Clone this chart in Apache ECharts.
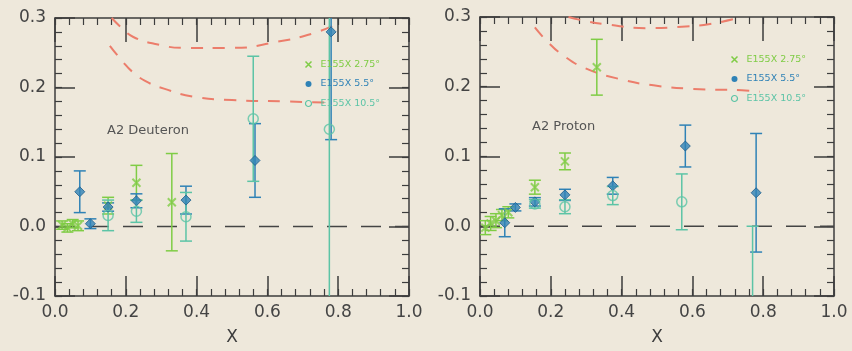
<!DOCTYPE html>
<html>
<head>
<meta charset="utf-8">
<script src="https://cdn.jsdelivr.net/npm/echarts@6/dist/echarts.min.js"></script>
<style>
  html, body { margin: 0; padding: 0; background: #eee8db; }
  #chart { width: 852px; height: 351px; }
</style>
</head>
<body>
<div id="chart"></div>
<script>
// 数据 - Deuteron (左图)
const d275X = [0.02, 0.035, 0.05, 0.065, 0.15, 0.23, 0.33]
const d275Y = [0.002, -0.002, 0.004, 0.001, 0.03, 0.063, 0.035]
const d275E = [0.006, 0.006, 0.006, 0.007, 0.012, 0.025, 0.07]
const d55X = [0.07, 0.1, 0.15, 0.23, 0.37, 0.565, 0.78]
const d55Y = [0.05, 0.004, 0.028, 0.037, 0.038, 0.095, 0.28]
const d55E = [0.03, 0.007, 0.006, 0.01, 0.02, 0.053, 0.155]
const d105X = [0.15, 0.23, 0.37, 0.56, 0.775]
const d105Y = [0.016, 0.022, 0.014, 0.155, 0.14]
const d105E = [0.022, 0.016, 0.035, 0.09, 0.5]
// 红色虚线（上下两条）
const dUpX = [0.16, 0.19, 0.22, 0.28, 0.37, 0.5, 0.63, 0.73, 0.79]
const dUpY = [0.3, 0.285, 0.273, 0.263, 0.257, 0.257, 0.266, 0.278, 0.29]
const dLoX = [0.155, 0.19, 0.22, 0.26, 0.31, 0.39, 0.5, 0.65, 0.78]
const dLoY = [0.26, 0.238, 0.222, 0.208, 0.198, 0.187, 0.182, 0.18, 0.178]

// 数据 - Proton (右图)
const p275X = [0.015, 0.03, 0.045, 0.062, 0.08, 0.155, 0.24, 0.33]
const p275Y = [-0.002, 0.004, 0.008, 0.016, 0.02, 0.056, 0.093, 0.228]
const p275E = [0.01, 0.01, 0.01, 0.008, 0.008, 0.01, 0.012, 0.04]
const p55X = [0.07, 0.1, 0.155, 0.24, 0.375, 0.58, 0.78]
const p55Y = [0.005, 0.027, 0.035, 0.045, 0.058, 0.115, 0.048]
const p55E = [0.02, 0.005, 0.006, 0.008, 0.012, 0.03, 0.085]
const p105X = [0.155, 0.24, 0.375, 0.57, 0.77]
const p105Y = [0.032, 0.028, 0.044, 0.035, -0.16]
const p105E = [0.006, 0.01, 0.013, 0.04, 0.16]
const pUpX = [0.25, 0.3, 0.35, 0.47, 0.57, 0.65, 0.74]
const pUpY = [0.3, 0.294, 0.29, 0.284, 0.286, 0.29, 0.3]
const pLoX = [0.155, 0.188, 0.235, 0.3, 0.395, 0.49, 0.6, 0.74, 0.79]
const pLoY = [0.285, 0.266, 0.245, 0.226, 0.211, 0.202, 0.197, 0.195, 0.193]

const zeroX = [0, 1]
const zeroY = [0, 0]

const names = ['E155X 2.75°', 'E155X 5.5°', 'E155X 10.5°']
const titles = ['A2 Deuteron', 'A2 Proton']

const green = '#7fcc45'
const blue = '#2f82b6'
const teal = '#5cc4a6'
const red = '#ec7d6b'
const axisColor = '#3d3d3d'
const crossPath = 'path://M0,0L10,10M10,0L0,10'

const zip = (xs, ys, es) => xs.map((x, i) => es ? [x, ys[i], es[i]] : [x, ys[i]])

function errRender(params, api) {
  const x = api.value(0), y = api.value(1), e = api.value(2)
  const top = api.coord([x, y + e])
  const bot = api.coord([x, y - e])
  const cap = 6
  const style = { stroke: api.visual('color'), lineWidth: 1.5 }
  return {
    type: 'group',
    children: [
      { type: 'line', shape: { x1: top[0], y1: top[1], x2: bot[0], y2: bot[1] }, style: style },
      { type: 'line', shape: { x1: top[0] - cap, y1: top[1], x2: top[0] + cap, y2: top[1] }, style: style },
      { type: 'line', shape: { x1: bot[0] - cap, y1: bot[1], x2: bot[0] + cap, y2: bot[1] }, style: style }
    ]
  }
}

// 主刻度轴
function xAx(gi, pos) {
  const main = pos === 'bottom'
  return {
    type: 'value', gridIndex: gi, position: pos, min: 0, max: 1, interval: 0.2,
    name: main ? 'X' : '', nameLocation: 'middle', nameGap: 33,
    nameTextStyle: { color: axisColor, fontSize: 17 },
    axisLine: { onZero: false, lineStyle: { color: axisColor, width: 1.5 } },
    axisTick: { inside: true, length: main ? 20 : 24, lineStyle: { color: axisColor, width: 1.5 } },
    splitLine: { show: false },
    axisLabel: { show: main, color: '#444', fontSize: 17, margin: 8, formatter: v => v.toFixed(1) }
  }
}

function yAx(gi, pos) {
  const main = pos === 'left'
  return {
    type: 'value', gridIndex: gi, position: pos, min: -0.1, max: 0.3, interval: 0.1,
    axisLine: { onZero: false, lineStyle: { color: axisColor, width: 1.5 } },
    axisTick: { inside: true, length: 20, lineStyle: { color: axisColor, width: 1.5 } },
    splitLine: { show: false },
    axisLabel: { show: main, color: '#444', fontSize: 17, margin: 9, formatter: v => v.toFixed(1) }
  }
}

// 次刻度轴（只画短刻度）
function minorAx(gi, pos, min, max, step) {
  return {
    type: 'value', gridIndex: gi, position: pos, min: min, max: max, interval: step,
    axisLine: { show: false, onZero: false },
    axisTick: { inside: true, length: 7, lineStyle: { color: axisColor, width: 1.2 } },
    splitLine: { show: false },
    axisLabel: { show: false }
  }
}

function panelSeries(ax, sets, curves) {
  const out = []
  // 红色虚线和零线
  curves.forEach(c => {
    out.push({
      type: 'line', xAxisIndex: ax, yAxisIndex: ax, data: zip(c[0], c[1]),
      smooth: true, symbol: 'none', silent: true, z: 1,
      lineStyle: { color: red, width: 2, type: [12, 10] }
    })
  })
  out.push({
    type: 'line', xAxisIndex: ax, yAxisIndex: ax, data: zip(zeroX, zeroY),
    symbol: 'none', silent: true, z: 1,
    lineStyle: { color: '#444', width: 1.5, type: [20, 14] }
  })
  sets.forEach((s, i) => {
    out.push({
      name: names[i], type: 'custom', xAxisIndex: ax, yAxisIndex: ax,
      renderItem: errRender, data: zip(s.x, s.y, s.e), clip: true,
      encode: { x: 0, y: 1 }, itemStyle: { color: s.color }, z: 2
    })
    out.push({
      name: names[i], type: 'scatter', xAxisIndex: ax, yAxisIndex: ax,
      data: zip(s.x, s.y), symbol: s.symbol, symbolSize: s.size, z: 3,
      itemStyle: s.style
    })
  })
  return out
}

const markerSets = (x1, y1, e1, x2, y2, e2, x3, y3, e3) => [
  { x: x1, y: y1, e: e1, color: green, symbol: crossPath, size: 8,
    style: { color: 'none', borderColor: green, borderWidth: 2 } },
  { x: x2, y: y2, e: e2, color: blue, symbol: 'diamond', size: 10,
    style: { color: blue, borderColor: '#1f5f8c', borderWidth: 1 } },
  { x: x3, y: y3, e: e3, color: teal, symbol: 'circle', size: 10,
    style: { color: 'rgba(0,0,0,0)', borderColor: teal, borderWidth: 1.5 } }
]

const legendData = [
  { name: names[0], icon: crossPath, itemStyle: { color: 'none', borderColor: green, borderWidth: 1.5 }, textStyle: { color: green } },
  { name: names[1], icon: 'circle', itemStyle: { color: blue }, textStyle: { color: blue } },
  { name: names[2], icon: 'circle', itemStyle: { color: 'none', borderColor: teal, borderWidth: 1.2 }, textStyle: { color: teal } }
]

function legend(left, top) {
  return {
    left: left, top: top, orient: 'vertical', itemGap: 9, itemWidth: 6, itemHeight: 6,
    selectedMode: false, data: legendData,
    textStyle: { fontSize: 9.5, padding: [0, 0, 0, 4] }
  }
}

const option = {
  backgroundColor: '#eee8db',
  animation: false,
  textStyle: { fontFamily: 'DejaVu Sans' },
  title: [
    { text: titles[0], left: 102, top: 119, textStyle: { fontSize: 13, fontWeight: 'normal', color: '#555' } },
    { text: titles[1], left: 527, top: 115, textStyle: { fontSize: 13, fontWeight: 'normal', color: '#555' } }
  ],
  legend: [legend(298, 54), legend(724, 49)],
  grid: [
    { left: 55, top: 18, width: 354, height: 285 },
    { left: 480, top: 17, width: 354, height: 281 }
  ],
  xAxis: [
    xAx(0, 'bottom'), xAx(0, 'top'), xAx(1, 'bottom'), xAx(1, 'top'),
    minorAx(0, 'bottom', 0, 1, 0.04), minorAx(0, 'top', 0, 1, 0.04),
    minorAx(1, 'bottom', 0, 1, 0.04), minorAx(1, 'top', 0, 1, 0.04)
  ],
  yAxis: [
    yAx(0, 'left'), yAx(0, 'right'), yAx(1, 'left'), yAx(1, 'right'),
    minorAx(0, 'left', -0.1, 0.3, 0.02), minorAx(0, 'right', -0.1, 0.3, 0.02),
    minorAx(1, 'left', -0.1, 0.3, 0.02), minorAx(1, 'right', -0.1, 0.3, 0.02)
  ],
  series: [].concat(
    panelSeries(0, markerSets(d275X, d275Y, d275E, d55X, d55Y, d55E, d105X, d105Y, d105E),
      [[dUpX, dUpY], [dLoX, dLoY]]),
    panelSeries(2, markerSets(p275X, p275Y, p275E, p55X, p55Y, p55E, p105X, p105Y, p105E),
      [[pUpX, pUpY], [pLoX, pLoY]])
  )
}

const chart = echarts.init(document.getElementById('chart'))
chart.setOption(option)
</script>
</body>
</html>
